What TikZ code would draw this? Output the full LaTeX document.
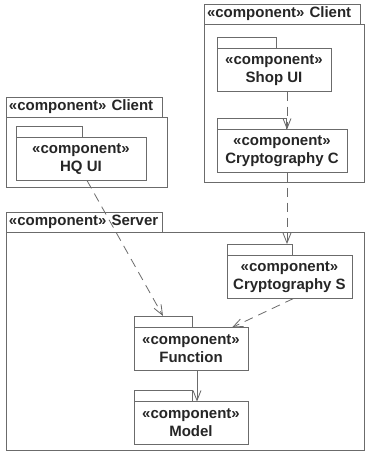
\documentclass[tikz,border=0pt]{standalone}
\usepackage{fontspec}
\setmainfont{Liberation Sans}
\usetikzlibrary{positioning,arrows.meta}

\definecolor{linegray}{gray}{0.42}
\definecolor{inkgray}{gray}{0.15}

\tikzset{
  pkgtab/.style={draw=linegray, line width=0.8pt, rectangle, minimum height=20pt,
    inner xsep=3pt, inner ysep=0pt, outer sep=0pt, align=left,
    text=inkgray, font=\fontsize{15}{18}\selectfont\bfseries},
  pkgbody/.style={draw=linegray, line width=0.8pt, rectangle, inner sep=0pt, outer sep=0pt},
  comptab/.style={draw=linegray, line width=0.8pt, rectangle, minimum height=11.5pt,
    inner sep=0pt, outer sep=0pt},
  compbody/.style={draw=linegray, line width=0.8pt, rectangle, minimum height=43pt,
    inner sep=0pt, outer sep=0pt, align=center,
    text=inkgray, font=\fontsize{15}{18}\selectfont\bfseries},
  dep/.style={draw=linegray, line width=0.8pt, dash pattern=on 9pt off 6pt,
    -{Straight Barb[length=10pt,width=8pt]}},
  uses/.style={draw=linegray, line width=0.8pt, -{Straight Barb[length=10pt,width=8pt]}},
}

\begin{document}
\begin{tikzpicture}[x=1pt,y=-1pt]
  \useasboundingbox (0,0) rectangle (377,459);
  \fill[white] (0,0) rectangle (377,459);

  % packages: tab with name, body below
  \foreach \name/\x/\y/\tw/\bw/\bh/\lbl in {clientr/204/4/150/160/158/Client,
      clientl/6/97/150/161/70/Client, server/6/212/150/358/218/Server} {
    \node[pkgtab, text width=\tw pt, anchor=north west] (\name-tab) at (\x,\y) {«component» \lbl};
    \node[pkgbody, minimum width=\bw pt, minimum height=\bh pt, anchor=north west] (\name) at (\name-tab.south west) {};
  }

  % components
  \foreach \name/\x/\y/\w/\tw/\lbl in {shopui/217/37/114/59/Shop UI,
      cryptoc/217/118/130/69/Cryptography C, hqui/16/126/130/66/HQ UI,
      cryptos/227/244/125/65/Cryptography S, function/134/316/114/58/Function,
      model/134/390/114/58/Model} {
    \node[comptab, minimum width=\tw pt, anchor=north west] (\name-tab) at (\x,\y) {};
    \node[compbody, minimum width=\w pt, anchor=north west] (\name) at (\name-tab.south west) {«component»\\\lbl};
  }

  % dependencies
  \draw[dep] ([xshift=13pt]shopui.south) -- ([xshift=5pt]cryptoc.north);
  \draw[dep] ([xshift=5pt]cryptoc.south) -- ([xshift=-5pt]cryptos-tab.north east);
  \draw[dep] ([xshift=6pt]hqui.south) -- (function-tab.north);
  \draw[dep] ([xshift=4pt]cryptos.south) -- ([xshift=41pt]function.north);
  \draw[uses] ([xshift=6pt]function.south) -- ([xshift=6pt]model.north);
\end{tikzpicture}
\end{document}
